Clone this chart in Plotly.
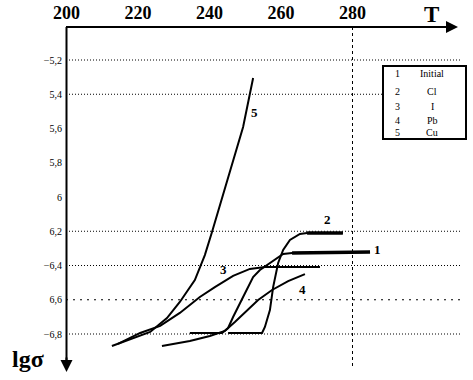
import plotly.graph_objects as go

# ---------------- data ----------------
T1 = [234.5, 243.5, 245.2, 246.6, 249.4, 252.2, 254.1, 256.1, 258.3, 260.6, 263.1, 284.9]
L1 = [-6.794, -6.794, -6.765, -6.701, -6.584, -6.467, -6.426, -6.397, -6.362, -6.333, -6.327, -6.321]

T2 = [245.2, 254.7, 255.5, 256.9, 257.8, 259.2, 260.6, 262.5, 265.3, 267.3, 277.3]
L2 = [-6.794, -6.794, -6.759, -6.660, -6.526, -6.385, -6.309, -6.251, -6.216, -6.210, -6.210]

T3 = [214.4, 220.6, 226.2, 231.7, 237.3, 241.5, 246.6, 251.3, 255.5, 270.9]
L3 = [-6.858, -6.794, -6.753, -6.677, -6.584, -6.526, -6.461, -6.420, -6.409, -6.409]

T4 = [226.7, 234.5, 240.1, 244.3, 247.1, 249.9, 253.6, 257.5, 262.0, 266.7]
L4 = [-6.870, -6.841, -6.812, -6.782, -6.730, -6.672, -6.601, -6.543, -6.491, -6.450]

T5 = [212.7, 218.6, 223.4, 228.1, 231.7, 235.9, 238.7, 240.7, 242.9, 245.7, 249.4, 252.2]
L5 = [-6.870, -6.823, -6.788, -6.707, -6.613, -6.485, -6.339, -6.204, -6.047, -5.860, -5.591, -5.305]

curve_names = ["1", "2", "3", "4", "5"]
label_T = [286.9, 272.9, 243.8, 265.9, 252.7]
label_L = [-6.304, -6.134, -6.426, -6.543, -5.504]

x_ticks = [200, 220, 240, 260, 280]
x_ticktext = ["200", "220", "240", "260", "280"]
y_ticks = [-5.2, -5.4, -5.6, -5.8, -6.0, -6.2, -6.4, -6.6, -6.8]
y_ticktext = ["\u22125,2", "5,4", "5,6", "5,8", "6", "6,2", "\u22126,4", "6,6", "\u22126,8"]
grid_levels = [-5.2, -5.4, -6.2, -6.4, -6.6, -6.8]
T_marker = 280

legend_nums = ["1", "2", "3", "4", "5"]
legend_names = ["Initial", "Cl", "I", "Pb", "Cu"]

# ---------------- figure ----------------
W, H = 473, 380
ML, MR, MT, MB = 66, 11, 27, 10
PW, PH = W - ML - MR, H - MT - MB


def px(xp):
    return (xp - ML) / PW


def py(yp):
    return 1 - (yp - MT) / PH


fig = go.Figure()
for T, L in [(T1, L1), (T2, L2), (T3, L3), (T4, L4), (T5, L5)]:
    fig.add_trace(go.Scatter(x=T, y=L, mode="lines",
                             line=dict(color="black", width=2),
                             showlegend=False, hoverinfo="skip"))
# thicker flat ends of curves 1 and 2
for T, L, k in [(T1, L1, 2), (T2, L2, 2)]:
    fig.add_trace(go.Scatter(x=T[-k:], y=L[-k:], mode="lines",
                             line=dict(color="black", width=3.5),
                             showlegend=False, hoverinfo="skip"))

shapes = []
for g in grid_levels:
    shapes.append(dict(type="line", xref="paper", yref="y", x0=0, x1=1, y0=g, y1=g,
                       line=dict(color="black", width=1,
                                 dash="2px,5px" if g == -6.6 else "1px,2px"),
                       layer="below"))
shapes.append(dict(type="line", xref="x", yref="paper", x0=T_marker, x1=T_marker,
                   y0=py(366), y1=1, line=dict(color="black", width=1, dash="3px,3px")))
# axis lines
shapes.append(dict(type="line", xref="paper", yref="paper", x0=px(66), x1=px(448),
                   y0=py(27), y1=py(27), line=dict(color="black", width=2)))
shapes.append(dict(type="line", xref="paper", yref="paper", x0=px(66.5), x1=px(66.5),
                   y0=py(27), y1=py(362), line=dict(color="black", width=2)))
# legend box
shapes.append(dict(type="rect", xref="paper", yref="paper", x0=px(383), x1=px(466),
                   y0=py(139), y1=py(66), fillcolor="white",
                   line=dict(color="black", width=2), layer="above"))

annotations = []
# arrow heads
annotations.append(dict(xref="paper", yref="paper", x=px(458), y=py(27), ax=-16, ay=0,
                        text="", showarrow=True, arrowhead=2, arrowsize=1.2,
                        arrowwidth=2, arrowcolor="black"))
annotations.append(dict(xref="paper", yref="paper", x=px(66.5), y=py(372), ax=0, ay=-16,
                        text="", showarrow=True, arrowhead=2, arrowsize=1.2,
                        arrowwidth=2, arrowcolor="black"))


def label(x, y, text, size, xref="paper", yref="paper", xanchor="center"):
    annotations.append(dict(xref=xref, yref=yref, x=x, y=y, text=text, showarrow=False,
                            xanchor=xanchor, yanchor="middle",
                            font=dict(family="Liberation Serif", size=size, color="black")))


label(px(431), py(15), "<b>T</b>", 23)
label(px(28), py(359), "<b>lg\u03c3</b>", 24)
for n, tx, ly in zip(curve_names, label_T, label_L):
    label(tx, ly, "<b>" + n + "</b>", 13, xref="x", yref="y")
row_y = [74, 92, 106, 120, 132]
for n, name, yy in zip(legend_nums, legend_names, row_y):
    label(px(397), py(yy), n, 10)
    label(px(432), py(yy), name, 10)

x0 = 200 - 0.5 / 3.575
fig.update_layout(
    width=W, height=H,
    margin=dict(l=ML, r=MR, t=MT, b=MB, autoexpand=False),
    paper_bgcolor="white", plot_bgcolor="white",
    shapes=shapes, annotations=annotations,
    xaxis=dict(side="top", range=[x0, x0 + PW / 3.575], tickvals=x_ticks,
               ticktext=["<b>" + t + "</b>" for t in x_ticktext],
               showgrid=False, zeroline=False, showline=False, ticks="",
               ticklabelstandoff=3, automargin=False,
               tickfont=dict(family="Liberation Serif", size=18, color="black")),
    yaxis=dict(range=[-5.2 - (370 - 60) / 171.25, -5.2 + (60 - 27) / 171.25],
               tickvals=y_ticks, ticktext=y_ticktext,
               showgrid=False, zeroline=False, showline=False, ticks="",
               ticklabelstandoff=3, automargin=False,
               tickfont=dict(family="Liberation Serif", size=10, color="black")),
)

fig.write_html("out.html", config={"displayModeBar": False},
               post_script="document.body.style.margin='0';document.body.style.overflow='hidden';")
